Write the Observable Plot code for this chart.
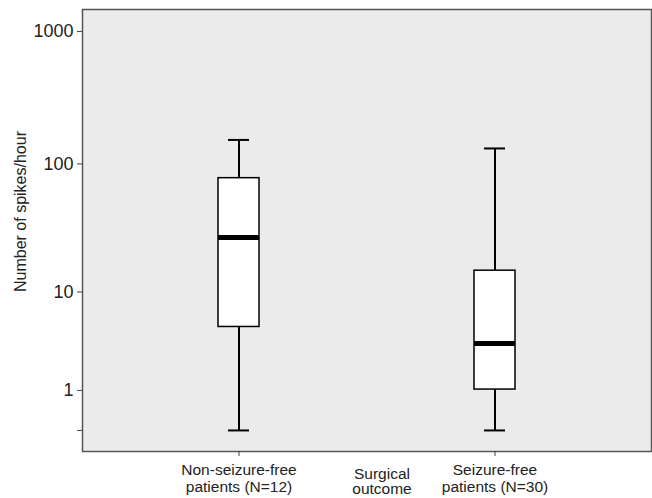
<!DOCTYPE html>
<html>
<head>
<meta charset="utf-8">
<script src="https://cdn.jsdelivr.net/npm/d3@7"></script>
<script src="https://cdn.jsdelivr.net/npm/@observablehq/plot@0.6"></script>
<style>
  html, body { margin: 0; padding: 0; background: #fff; }
</style>
</head>
<body>
<div id="chart"></div>
<script>
// Data (spikes/hour, log(1+x) axis)
const categories = ["Non-seizure-free\npatients (N=12)", "Seizure-free\npatients (N=30)"];
const whiskerLow = [0, 0];
const q1 = [5.0, 1.03];
const median = [27.2, 3.5];
const q3 = [77.9, 14.9];
const whiskerHigh = [152, 131];
const yTicks = [0, 1, 10, 100, 1000];
const yLabel = "Number of spikes/hour";
const xLabel = "Surgical\noutcome";

const stats = categories.map((c, i) => ({
  cat: c, lo: whiskerLow[i], q1: q1[i], med: median[i], q3: q3[i], hi: whiskerHigh[i]
}));

const chart = Plot.plot({
  width: 652,
  height: 498,
  marginLeft: 82,
  marginRight: 1,
  marginTop: 9,
  marginBottom: 47,
  style: { fontFamily: "'Liberation Sans', Arial, sans-serif", color: "#222", background: "#fff" },
  x: { type: "band", domain: categories, paddingInner: 0.84, paddingOuter: 0.529 },
  y: { type: "symlog", domain: [-0.44, 1463] },
  marks: [
    Plot.frame({ fill: "#ebebeb" }),
    // whiskers
    Plot.ruleX(stats, { x: "cat", y1: "lo", y2: "q1", stroke: "#000", strokeWidth: 2 }),
    Plot.ruleX(stats, { x: "cat", y1: "q3", y2: "hi", stroke: "#000", strokeWidth: 2 }),
    Plot.tickY(stats, { x: "cat", y: "lo", stroke: "#000", strokeWidth: 2, insetLeft: 10, insetRight: 10 }),
    Plot.tickY(stats, { x: "cat", y: "hi", stroke: "#000", strokeWidth: 2, insetLeft: 10, insetRight: 10 }),
    // boxes
    Plot.barY(stats, { x: "cat", y1: "q1", y2: "q3", fill: "#fff", stroke: "#000", strokeWidth: 1.5 }),
    Plot.tickY(stats, { x: "cat", y: "med", stroke: "#000", strokeWidth: 5 }),
    Plot.frame({ stroke: "#555", strokeWidth: 1.5 }),
    Plot.axisY({
      ticks: yTicks, tickSize: 5, tickPadding: 4, fontSize: 18, stroke: "#444",
      tickFormat: d => d === 0 ? "" : String(d), label: null
    }),
    Plot.axisX({
      tickSize: 5, tickPadding: 6, fontSize: 15.5, lineHeight: 1.1, stroke: "#444", label: null
    }),
    Plot.text([yLabel], {
      text: d => d, frameAnchor: "left", textAnchor: "middle", rotate: -90, dx: -62, dy: -19,
      fontSize: 16, fill: "#222"
    }),
    Plot.text([xLabel], {
      text: d => d, frameAnchor: "bottom", lineAnchor: "top", dx: 15, dy: 16,
      fontSize: 15.5, lineHeight: 1.0, fill: "#222"
    })
  ]
});
document.getElementById("chart").appendChild(chart);
</script>
</body>
</html>
